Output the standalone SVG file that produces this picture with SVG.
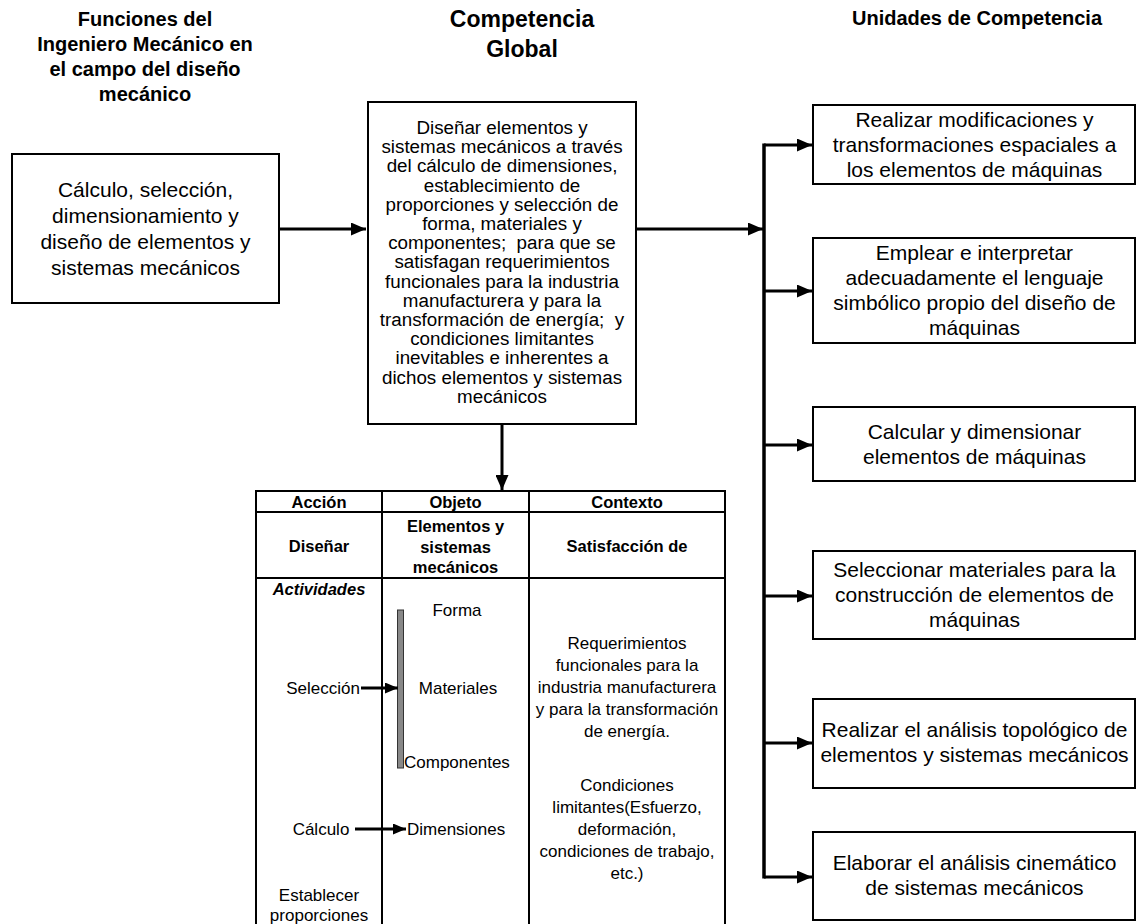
<svg xmlns="http://www.w3.org/2000/svg" width="1137" height="924" viewBox="0 0 1137 924">
<style>
text{font-family:"Liberation Sans",Arial,sans-serif;fill:#000}
.h{font-weight:bold;font-size:20px;text-anchor:middle}
.box{fill:#fff;stroke:#000;stroke-width:2}
.t21{font-size:21px;text-anchor:middle}
.t18{font-size:18.8px;text-anchor:middle;white-space:pre}
.tb{font-size:16.5px;font-weight:bold;text-anchor:middle}
.t17{font-size:17px;text-anchor:middle}
.con{fill:none;stroke:#000;stroke-width:3}
.tl{fill:none;stroke:#000;stroke-width:2}
</style>
<defs>
<marker id="ah" markerUnits="userSpaceOnUse" markerWidth="15" markerHeight="13" refX="15" refY="6.5" orient="auto"><path d="M0,0 L15,6.5 L0,13 z" fill="#000"/></marker>
<marker id="as" markerUnits="userSpaceOnUse" markerWidth="13" markerHeight="11" refX="13" refY="5.5" orient="auto"><path d="M0,0 L13,5.5 L0,11 z" fill="#000"/></marker>
</defs>

<g id="headers">
<text class="h" x="145" y="26">Funciones del<tspan x="145" dy="25">Ingeniero Mecánico en</tspan><tspan x="145" dy="25">el campo del diseño</tspan><tspan x="145" dy="25">mecánico</tspan></text>
<text class="h" x="522" y="27" style="font-size:23px">Competencia<tspan x="522" dy="30">Global</tspan></text>
<text class="h" x="977" y="25">Unidades de Competencia</text>
</g>

<g id="connectors">
<path class="con" d="M279,229 H366" marker-end="url(#ah)"/>
<path class="con" d="M636,229 H763" marker-end="url(#ah)"/>
<path class="con" d="M764,143.5 V878.5" style="stroke-width:3.5"/>
<path class="con" d="M764,145 H812" marker-end="url(#ah)"/>
<path class="con" d="M764,291 H812" marker-end="url(#ah)"/>
<path class="con" d="M764,445 H812" marker-end="url(#ah)"/>
<path class="con" d="M764,596 H812" marker-end="url(#ah)"/>
<path class="con" d="M764,743 H812" marker-end="url(#ah)"/>
<path class="con" d="M764,877 H812" marker-end="url(#ah)"/>
<path class="con" d="M502,424 V490" marker-end="url(#ah)"/>
</g>

<g id="funciones">
<rect class="box" x="12" y="154" width="267" height="149"/>
<text class="t21" x="145.5" y="197">Cálculo, selección,<tspan x="145.5" dy="26">dimensionamiento y</tspan><tspan x="145.5" dy="26">diseño de elementos y</tspan><tspan x="145.5" dy="26">sistemas mecánicos</tspan></text>
</g>

<g id="competencia">
<rect class="box" x="368" y="102" width="268" height="322"/>
<text class="t18" x="502" y="134">Diseñar elementos y<tspan x="502" dy="19.2">sistemas mecánicos a través</tspan><tspan x="502" dy="19.2">del cálculo de dimensiones,</tspan><tspan x="502" dy="19.2">establecimiento de</tspan><tspan x="502" dy="19.2">proporciones y selección de</tspan><tspan x="502" dy="19.2">forma, materiales y</tspan><tspan x="502" dy="19.2">componentes;  para que se</tspan><tspan x="502" dy="19.2">satisfagan requerimientos</tspan><tspan x="502" dy="19.2">funcionales para la industria</tspan><tspan x="502" dy="19.2">manufacturera y para la</tspan><tspan x="502" dy="19.2">transformación de energía;  y</tspan><tspan x="502" dy="19.2">condiciones limitantes</tspan><tspan x="502" dy="19.2">inevitables e inherentes a</tspan><tspan x="502" dy="19.2">dichos elementos y sistemas</tspan><tspan x="502" dy="19.2">mecánicos</tspan></text>
</g>

<g id="u1">
<rect class="box" x="813" y="105" width="322" height="79"/>
<text class="t21" x="974.5" y="127">Realizar modificaciones y<tspan x="974.5" dy="25">transformaciones espaciales a</tspan><tspan x="974.5" dy="25">los elementos de máquinas</tspan></text>
</g>
<g id="u2">
<rect class="box" x="813" y="238" width="322" height="105"/>
<text class="t21" x="974.5" y="260">Emplear e interpretar<tspan x="974.5" dy="25">adecuadamente el lenguaje</tspan><tspan x="974.5" dy="25">simbólico propio del diseño de</tspan><tspan x="974.5" dy="25">máquinas</tspan></text>
</g>
<g id="u3">
<rect class="box" x="813" y="407" width="322" height="74"/>
<text class="t21" x="974.5" y="439">Calcular y dimensionar<tspan x="974.5" dy="25">elementos de máquinas</tspan></text>
</g>
<g id="u4">
<rect class="box" x="813" y="551" width="322" height="88"/>
<text class="t21" x="974.5" y="577">Seleccionar materiales para la<tspan x="974.5" dy="25">construcción de elementos de</tspan><tspan x="974.5" dy="25">máquinas</tspan></text>
</g>
<g id="u5">
<rect class="box" x="813" y="699" width="322" height="89"/>
<text class="t21" x="974.5" y="737">Realizar el análisis topológico de<tspan x="974.5" dy="25">elementos y sistemas mecánicos</tspan></text>
</g>
<g id="u6">
<rect class="box" x="813" y="832" width="322" height="88"/>
<text class="t21" x="974.5" y="870">Elaborar el análisis cinemático<tspan x="974.5" dy="25">de sistemas mecánicos</tspan></text>
</g>

<g id="tabla">
<rect class="tl" x="256" y="491" width="469" height="440"/>
<path class="tl" d="M256,512 H725 M256,578 H725 M382,491 V931 M529,491 V931"/>
<text class="tb" x="319" y="508">Acción</text>
<text class="tb" x="455.5" y="508">Objeto</text>
<text class="tb" x="627" y="508">Contexto</text>
<text class="tb" x="319" y="552">Diseñar</text>
<text class="tb" x="455.5" y="532">Elementos y<tspan x="455.5" dy="20.5">sistemas</tspan><tspan x="455.5" dy="20.5">mecánicos</tspan></text>
<text class="tb" x="627" y="552">Satisfacción de</text>
<text class="tb" x="319" y="595" style="font-style:italic">Actividades</text>
<rect x="397.5" y="610" width="6" height="158" fill="#888" stroke="#333" stroke-width="1"/>
<text class="t17" x="457" y="616">Forma</text>
<text class="t17" x="360" y="694" style="text-anchor:end">Selección</text>
<text class="t17" x="458" y="694">Materiales</text>
<text class="t17" x="404" y="768" style="text-anchor:start">Componentes</text>
<text class="t17" x="321" y="835">Cálculo</text>
<text class="t17" x="407" y="835" style="text-anchor:start">Dimensiones</text>
<text class="t17" x="319" y="901">Establecer<tspan x="319" dy="20">proporciones</tspan></text>
<text class="t17" x="627" y="649">Requerimientos<tspan x="627" dy="22">funcionales para la</tspan><tspan x="627" dy="22">industria manufacturera</tspan><tspan x="627" dy="22">y para la transformación</tspan><tspan x="627" dy="22">de energía.</tspan></text>
<text class="t17" x="627" y="791">Condiciones<tspan x="627" dy="22">limitantes(Esfuerzo,</tspan><tspan x="627" dy="22">deformación,</tspan><tspan x="627" dy="22">condiciones de trabajo,</tspan><tspan x="627" dy="22">etc.)</tspan></text>
<path class="con" d="M361,688 H398" marker-end="url(#as)"/>
<path class="con" d="M355,829 H406" marker-end="url(#as)"/>
</g>
</svg>
